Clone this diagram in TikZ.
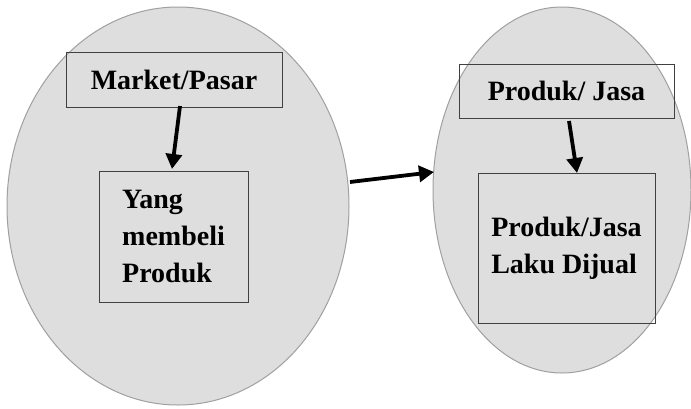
\documentclass[tikz,border=0pt]{standalone}
\usepackage{fontspec}
\setmainfont{Liberation Serif}
\usetikzlibrary{arrows.meta}
\definecolor{ellfill}{HTML}{DEDEDE}
\definecolor{elldraw}{HTML}{A0A0A0}
\definecolor{boxdraw}{HTML}{404040}
\begin{document}
\begin{tikzpicture}[x=1pt,y=-1pt,
  frame/.style={draw=boxdraw,line width=1pt,inner sep=0pt,font=\fontsize{28}{37}\selectfont\bfseries,align=left},
  bigarrow/.style={line width=3.8pt,-{Triangle[length=15pt,width=16pt]}}]
\useasboundingbox (0,0) rectangle (691,408);
\fill[white] (0,0) rectangle (691,408);
\draw[draw=elldraw,fill=ellfill,line width=1pt] (178,206) ellipse [x radius=171, y radius=199];
\draw[draw=elldraw,fill=ellfill,line width=1pt] (562,190) ellipse [x radius=129, y radius=183];
\node[frame,minimum width=216pt,minimum height=55pt] (mp) at (174,79.5) {Market/Pasar};
\node[frame,minimum width=149pt,minimum height=131pt] (yb) at (173.5,236.5) {Yang\\membeli\\Produk};
\node[frame,minimum width=215pt,minimum height=54pt] (pj) at (566.5,91) {Produk/ Jasa};
\node[frame,minimum width=177pt,minimum height=150pt] (pl) at (566.5,248) {Produk/Jasa\\Laku Dijual};
\coordinate (a1s) at (180,106);
\coordinate (a1e) at (172,169);
\coordinate (a2s) at (350,182);
\coordinate (a2e) at (434,172);
\coordinate (a3s) at (569,121);
\coordinate (a3e) at (577,173);
\draw[bigarrow] (a1s) -- (a1e);
\draw[bigarrow] (a2s) -- (a2e);
\draw[bigarrow] (a3s) -- (a3e);
\end{tikzpicture}
\end{document}
